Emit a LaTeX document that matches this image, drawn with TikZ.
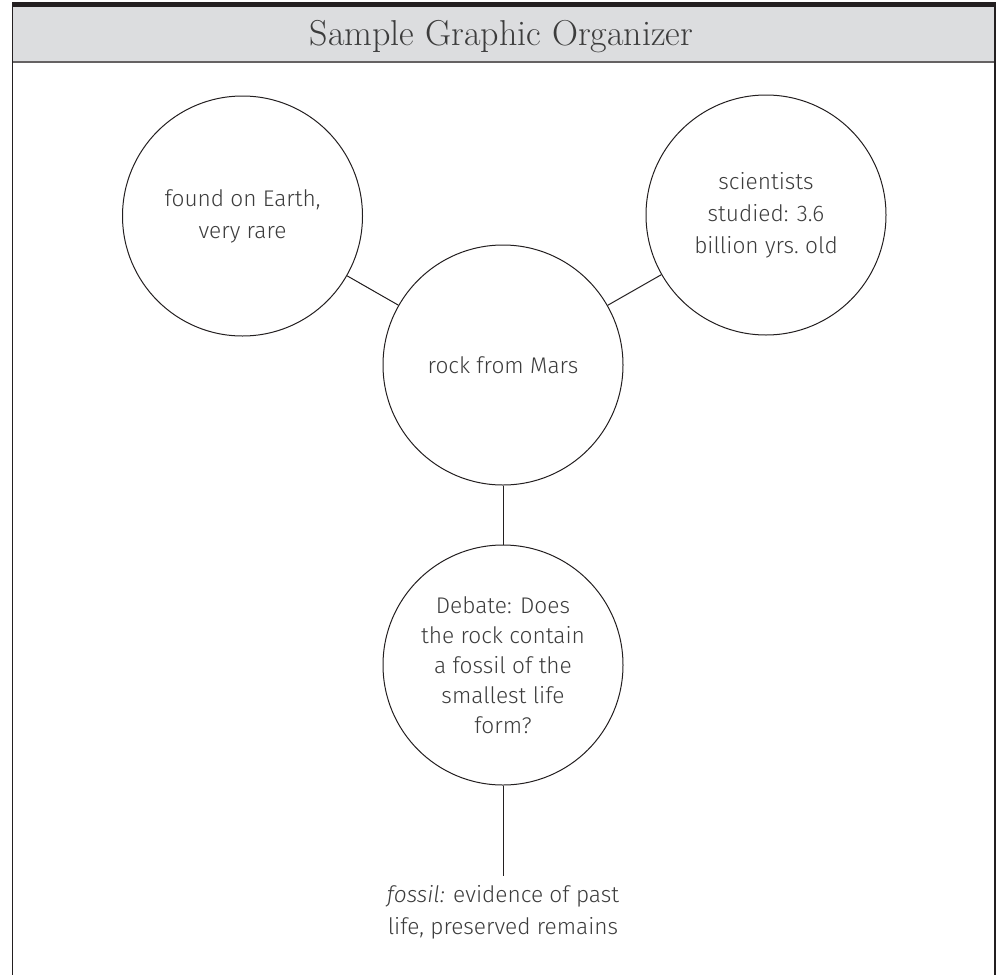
\documentclass[tikz,border=0pt]{standalone}
\usepackage{fontspec}
\newfontfamily\handfont{Fira Sans}[UprightFont=* Light, ItalicFont=* Light Italic]
\usetikzlibrary{positioning}
\definecolor{headgray}{HTML}{DCDDDF}
\definecolor{barblack}{HTML}{231F20}
\definecolor{inkgray}{HTML}{3C3C3C}
\tikzset{
  bubble/.style={circle,draw=barblack,line width=0.75pt,minimum size=180pt,inner sep=0pt,
    align=center,text=inkgray,font=\handfont\fontsize{17}{24}\selectfont},
  link/.style={draw=barblack,line width=0.75pt},
}

\begin{document}
\begin{tikzpicture}[x=0.75pt,y=-0.75pt]
\useasboundingbox (0,0) rectangle (1000,975);
% header band
\fill[headgray] (12,7) rectangle (995,62);
\fill[barblack] (12,2) rectangle (996,7);
\draw[barblack!70,line width=1.5pt] (12,62) -- (995,62);
% frame sides, open at the bottom
\draw[barblack,line width=1.2pt] (12.5,2) -- (12.5,975);
\draw[barblack,line width=1.5pt] (994.5,2) -- (994.5,975);
\node[anchor=base,text=inkgray,font=\fontsize{27}{32}\selectfont] (title) at (501.5,45) {Sample Graphic Organizer};
% bubbles
\node[bubble] (earth) at (242.5,216) {found on Earth,\\very rare};
\node[bubble] (studied) at (766,215) {scientists\\studied: 3.6\\billion yrs.\ old};
\node[bubble] (mars) at (503,365) {rock from Mars};
\node[bubble,font=\handfont\fontsize{17}{22.5}\selectfont] (debate) at (503,665)
  {Debate: Does\\the rock contain\\a fossil of the\\smallest life\\form?};
% vocabulary note under the last bubble
\node[anchor=north,align=center,inner xsep=0pt,inner ysep=6.5pt,text=inkgray,
  font=\handfont\fontsize{17}{24}\selectfont] (fossil) at (503,876)
  {\textit{fossil:} evidence of past\\life, preserved remains};
\draw[link] (mars) -- (earth);
\draw[link] (mars) -- (studied);
\draw[link] (mars) -- (debate);
\draw[link] (debate) -- (fossil);
\end{tikzpicture}
\end{document}
